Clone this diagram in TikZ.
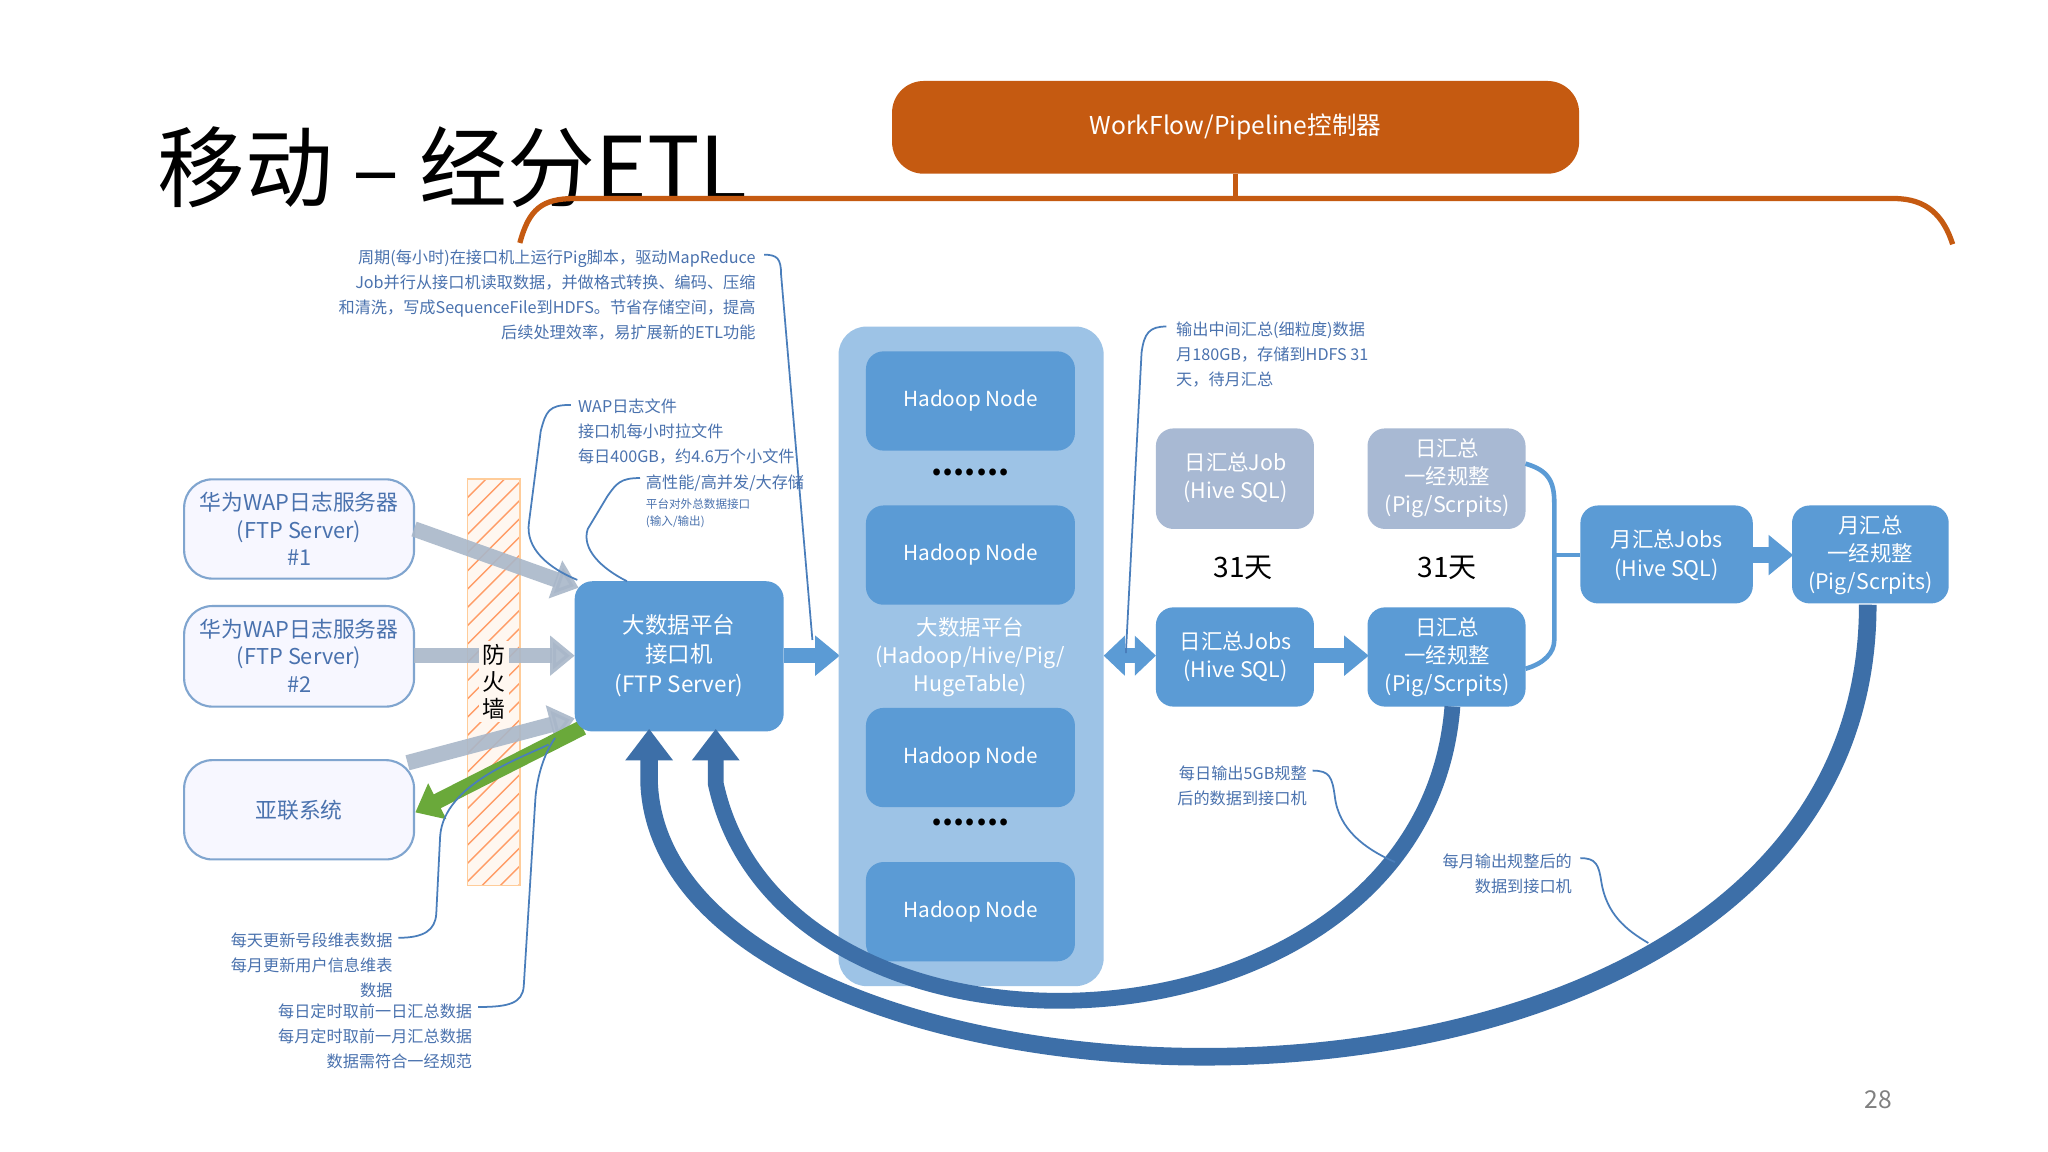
\documentclass[tikz,border=0pt]{standalone}
\usepackage{fontspec}
\setmainfont{Noto Sans CJK SC}
\usetikzlibrary{arrows.meta,patterns,calc}
\definecolor{nodeblue}{HTML}{5B9BD5}
\definecolor{contblue}{HTML}{9DC3E6}
\definecolor{txtblue}{HTML}{4A72AE}
\definecolor{callblue}{HTML}{4A7EBB}
\definecolor{orangeb}{HTML}{C55A11}
\definecolor{grayblue}{HTML}{A8B9D3}
\definecolor{arcblue}{HTML}{3D6FA8}
\definecolor{grayarrow}{HTML}{A9B7C9}
\definecolor{greenarr}{HTML}{6AA93A}
\tikzset{
  note/.style={text=txtblue,font=\fontsize{4.6}{7.1}\selectfont,inner sep=0pt},
  callout/.style={draw=callblue,line width=0.5pt},
  fat/.style={line width=4.4pt,-{Triangle[length=7pt,width=11pt]}},
  srvframe/.style={draw=callblue!70,fill=blue!3,rounded corners=8pt,line width=0.6pt},
  wtxt/.style={text=white,align=center,font=\fontsize{6.1}{8}\selectfont},
  btxt/.style={text=txtblue,align=center,font=\fontsize{6.2}{7.9}\selectfont}
}
\begin{document}
\begin{tikzpicture}[x=0.0130612cm,y=-0.0130612cm]
\useasboundingbox (0,0) rectangle (1568,882);
\fill[white] (0,0) rectangle (1568,882);
% title
\node[font=\fontsize{25}{30}\selectfont,anchor=west,inner sep=0pt] (title) at (120,128) {移动 – 经分ETL};
% workflow
\fill[orangeb,rounded corners=9pt] (683,62) rectangle (1209,133);
\node[text=white,font=\fontsize{7}{8}\selectfont] (wft) at (946,97) {WorkFlow/Pipeline控制器};
\draw[orangeb,line width=1.5pt] (398,186) .. controls (405,160) and (415,152) .. (440,152) -- (1450,152) .. controls (1475,152) and (1488,165) .. (1495,187);
\draw[orangeb,line width=1.5pt] (946,133) -- (946,152);
% left servers
\draw[srvframe] (141,367) rectangle (317,443);
\draw[srvframe] (141,464) rectangle (317,541);
\draw[srvframe] (141,582) rectangle (317,658);
\node[btxt] (w1) at (229,405) {华为WAP日志服务器\\(FTP Server)\\\#1};
\node[btxt] (w2) at (229,502) {华为WAP日志服务器\\(FTP Server)\\\#2};
\node[btxt] (yl) at (229,620) {亚联系统};
% firewall
\fill[orange!6] (358,367) rectangle (398,678);
\begin{scope}
\clip (358,367) rectangle (398,678);
\foreach \k in {0,14,...,360}{
  \draw[orange!70!red!60,line width=0.4pt] (358,367+\k) -- (398,367+\k-40);
}
\end{scope}
\draw[orange!40,line width=0.5pt] (358,367) rectangle (398,678);
% gray arrows
\draw[grayarrow,fat,opacity=0.9] (317,405) -- (443,450);
\draw[grayarrow,fat,opacity=0.9] (317,502) -- (440,502);
\draw[grayarrow,fat,opacity=0.9] (312,584) -- (440,550);
\node[align=center,font=\fontsize{6.5}{7.6}\selectfont,fill=orange!6,inner sep=1pt] (fw) at (378,522) {防\\火\\墙};
\draw[greenarr,fat] (446,557) -- (318,622);
% interface machine
\fill[nodeblue,rounded corners=5pt] (440,445) rectangle (600,560);
\node[text=white,align=center,font=\fontsize{6.4}{8.4}\selectfont] (ifm) at (520,502) {大数据平台\\接口机\\(FTP Server)};
\coordinate (ifr) at (600,502);
\coordinate (cl) at (643,502);
\draw[nodeblue,fat] (ifr) -- (cl);
% container
\fill[contblue,rounded corners=8pt] (642,250) rectangle (845,755);
\foreach \y/\n in {307/h1,425/h2,580/h3,698/h4}{
  \fill[nodeblue,rounded corners=5pt] (663,\y-38) rectangle (823,\y+38);
  \node[text=white,font=\fontsize{5.9}{8}\selectfont] (\n) at (743,\y) {Hadoop Node};
}
\node[font=\bfseries\fontsize{9}{9}\selectfont] (d1) at (743,362) {.......};
\node[font=\bfseries\fontsize{9}{9}\selectfont] (d2) at (743,630) {.......};
\node[wtxt] (bp) at (743,503) {大数据平台\\(Hadoop/Hive/Pig/\\HugeTable)};
% double arrow
\coordinate (cr) at (845,502);
\coordinate (dj) at (885,502);
\draw[nodeblue,line width=4.4pt,{Triangle[length=6pt,width=11pt]}-{Triangle[length=6pt,width=11pt]}] (cr) -- (dj);
% daily boxes
\fill[grayblue,rounded corners=5pt] (885,328) rectangle (1006,405);
\node[wtxt] (dj1) at (946,366) {日汇总Job\\(Hive SQL)};
\fill[grayblue,rounded corners=5pt] (1047,328) rectangle (1168,405);
\node[wtxt] (dg1) at (1108,366) {日汇总\\一经规整\\(Pig/Scrpits)};
\node[font=\fontsize{8}{9}\selectfont] (t1) at (952,435) {31天};
\node[font=\fontsize{8}{9}\selectfont] (t2) at (1108,435) {31天};
\fill[nodeblue,rounded corners=5pt] (885,465) rectangle (1006,541);
\node[wtxt] (dj2) at (946,503) {日汇总Jobs\\(Hive SQL)};
\fill[nodeblue,rounded corners=5pt] (1047,465) rectangle (1168,541);
\node[wtxt] (dg2) at (1108,503) {日汇总\\一经规整\\(Pig/Scrpits)};
\draw[nodeblue,fat] (1006,502) -- (1048,502);
% bracket
\draw[nodeblue,line width=1.3pt] (1168,355) .. controls (1185,360) and (1190,368) .. (1190,385) -- (1190,490) .. controls (1190,500) and (1182,508) .. (1168,512);
\draw[nodeblue,line width=1.3pt] (1190,425) -- (1210,425);
% monthly
\fill[nodeblue,rounded corners=5pt] (1210,387) rectangle (1342,462);
\node[wtxt] (mj) at (1276,425) {月汇总Jobs\\(Hive SQL)};
\fill[nodeblue,rounded corners=5pt] (1372,387) rectangle (1492,462);
\node[wtxt] (mg) at (1432,425) {月汇总\\一经规整\\(Pig/Scrpits)};
\draw[nodeblue,fat] (1342,425) -- (1373,425);
% big arcs
\coordinate (a1) at (1112,541);
\coordinate (e1) at (548,558);
\coordinate (a2) at (1430,463);
\coordinate (e2) at (497,558);
\draw[arcblue,line width=4.5pt,-{Triangle[length=9pt,width=13pt]}] (a1) .. controls (1090,820) and (600,840) .. (548,600) -- (e1);
\draw[arcblue,line width=5pt,-{Triangle[length=9pt,width=13pt]}] (a2) .. controls (1430,920) and (510,880) .. (497,600) -- (e2);
% callouts
\node[note,align=right,anchor=north east] (n1) at (579,191) {周期(每小时)在接口机上运行Pig脚本，驱动MapReduce\\Job并行从接口机读取数据，并做格式转换、编码、压缩\\和清洗，写成SequenceFile到HDFS。节省存储空间，提高\\后续处理效率，易扩展新的ETL功能};
\draw[callout] (585,195) .. controls (595,195) and (598,198) .. (598,210) -- (622,490);
\node[note,align=left,anchor=north west] (n2) at (442,305) {WAP日志文件\\接口机每小时拉文件\\每日400GB，约4.6万个小文件};
\draw[callout] (437,310) .. controls (420,310) and (418,315) .. (414,330) -- (405,400) .. controls (402,420) and (420,435) .. (442,444);
\node[note,align=left,anchor=north west] (n3) at (494,363) {高性能/高并发/大存储};
\node[text=txtblue,font=\fontsize{3.3}{5}\selectfont,align=left,anchor=north west,inner sep=0pt] (n3b) at (494,381) {平台对外总数据接口\\(输入/输出)};
\draw[callout] (490,366) .. controls (475,366) and (472,370) .. (465,380) -- (450,405) .. controls (445,420) and (460,435) .. (480,445);
\node[note,align=right,anchor=north east] (n4) at (301,714) {每天更新号段维表数据\\每月更新用户信息维表\\数据};
\draw[callout] (305,718) .. controls (325,718) and (333,712) .. (334,700) -- (337,640) .. controls (340,600) and (400,580) .. (420,570);
\node[note,align=right,anchor=north east] (n5) at (362,768) {每日定时取前一日汇总数据\\每月定时取前一月汇总数据\\数据需符合一经规范};
\draw[callout] (366,771) .. controls (390,771) and (400,768) .. (401,755) -- (410,610) .. controls (412,590) and (418,575) .. (425,565);
\node[note,align=right,anchor=north east] (n6) at (1001,586) {每日输出5GB规整\\后的数据到接口机};
\draw[callout] (1005,590) .. controls (1018,590) and (1020,595) .. (1022,610) .. controls (1025,635) and (1045,650) .. (1068,660);
\node[note,align=right,anchor=north east] (n7) at (1204,653) {每月输出规整后的\\数据到接口机};
\draw[callout] (1210,657) .. controls (1222,657) and (1224,662) .. (1226,675) .. controls (1230,700) and (1245,712) .. (1262,722);
\node[note,align=left,anchor=north west] (n8) at (900,246) {输出中间汇总(细粒度)数据\\月180GB，存储到HDFS 31\\天，待月汇总};
\draw[callout] (893,250) .. controls (880,250) and (876,255) .. (874,270) -- (862,500);
\node[text=gray,font=\fontsize{7}{8}\selectfont] (pg) at (1438,842) {28};
\end{tikzpicture}
\end{document}
